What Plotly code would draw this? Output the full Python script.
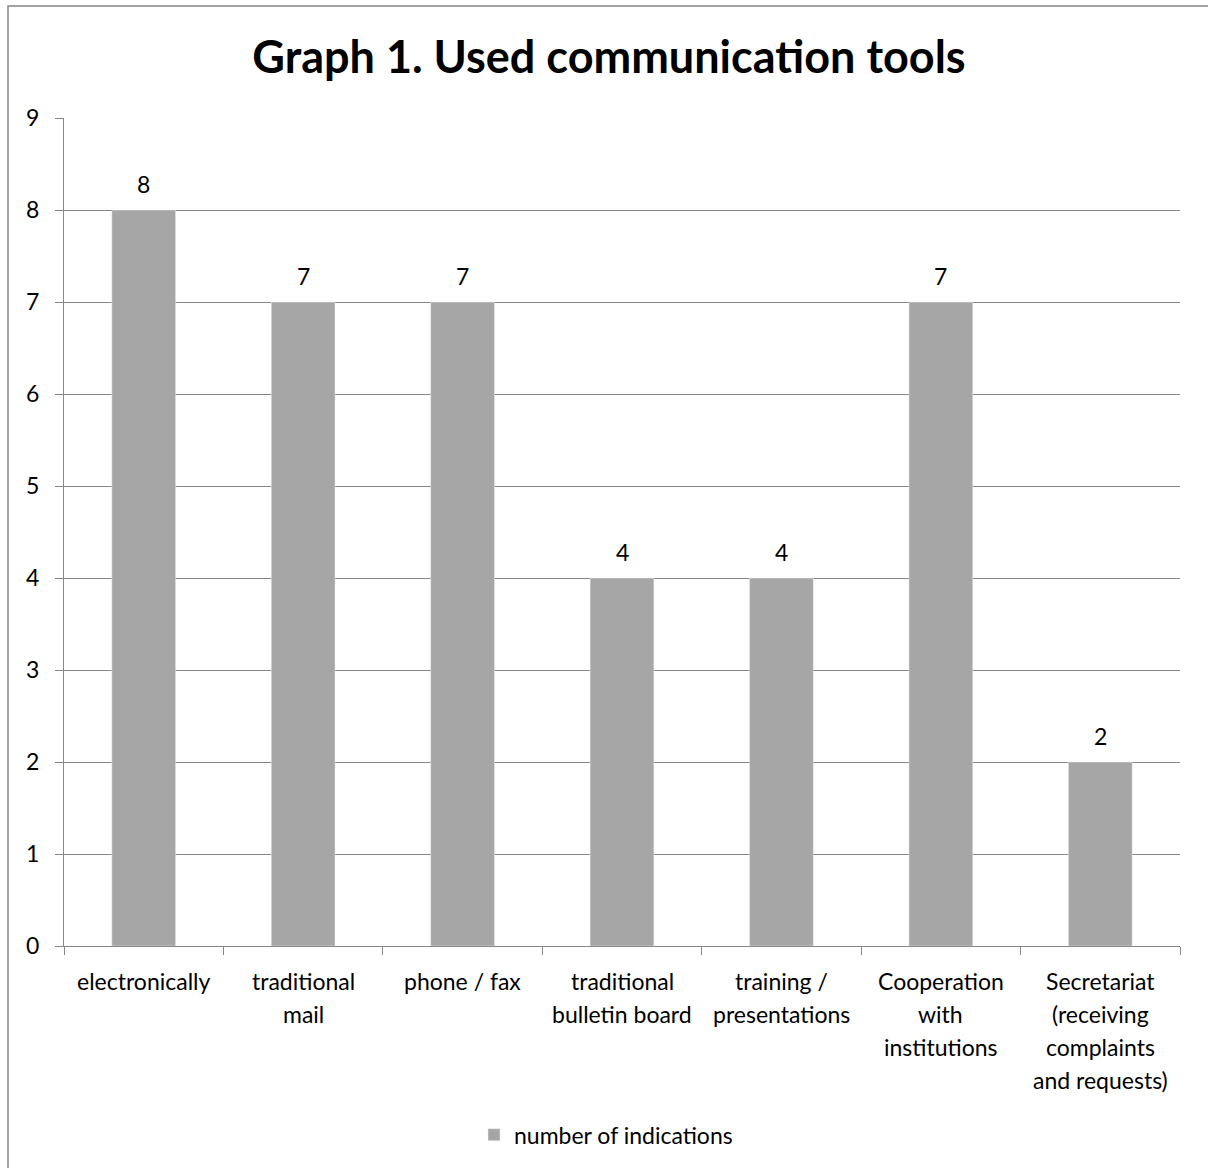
import plotly.graph_objects as go

categories = ["electronically", "traditional\nmail", "phone / fax",
              "traditional\nbulletin board", "training /\npresentations",
              "Cooperation\nwith\ninstitutions",
              "Secretariat\n(receiving\ncomplaints\nand requests)"]
values = [8, 7, 7, 4, 4, 7, 2]
series_name = "number of indications"
title_text = "Graph 1. Used communication tools"
y_ticks = list(range(0, 10))

FONT = "Lato"
FS = 23
BAR = "#a6a6a6"
GRID = "#878787"

cat_ids = [c.replace("\n", " ") for c in categories]

fig = go.Figure()
fig.add_trace(go.Bar(x=cat_ids, y=values, name=series_name, marker_color=BAR,
                     width=0.4, showlegend=True))

annotations = []
for cid, v in zip(cat_ids, values):
    annotations.append(dict(x=cid, y=v, xref="x", yref="y", text=str(v),
                            showarrow=False, yanchor="middle", yshift=26,
                            font=dict(family=FONT, size=FS, color="black")))
for cid, c in zip(cat_ids, categories):
    for i, line in enumerate(c.split("\n")):
        annotations.append(dict(x=cid, y=0, xref="x", yref="paper", text=line,
                                showarrow=False, yanchor="middle",
                                yshift=-35 - 33 * i,
                                font=dict(family=FONT, size=FS, color="black")))

fig.update_layout(
    width=1208, height=1168,
    margin=dict(l=64, r=28, t=118, b=222),
    paper_bgcolor="white", plot_bgcolor="white",
    font=dict(family=FONT, size=FS, color="black"),
    title=dict(text="<b>" + title_text + "</b>", x=609 / 1208, xanchor="center",
               y=1 - 57 / 1168, yanchor="middle",
               font=dict(family=FONT, size=45, color="black")),
    bargap=0.6,
    showlegend=True,
    legend=dict(orientation="h", x=(606 - 64) / 1116, xanchor="center",
                y=-0.228, yanchor="middle", itemwidth=30,
                font=dict(family=FONT, size=FS, color="black")),
    annotations=annotations,
    shapes=[dict(type="rect", xref="paper", yref="paper",
                 x0=(8 - 64) / 1116, x1=1.2, y0=-0.6, y1=(946 - 6) / 828,
                 line=dict(color=GRID, width=1.5), fillcolor="rgba(0,0,0,0)",
                 layer="below")],
)
fig.update_xaxes(type="category", showline=True, linecolor=GRID, linewidth=1,
                 ticks="outside", tickson="boundaries", ticklen=8, tickcolor=GRID,
                 showticklabels=False, showgrid=False)
fig.update_yaxes(range=[0, 9], tickvals=y_ticks, showline=True, linecolor=GRID,
                 linewidth=1, ticks="outside", ticklen=8, tickcolor=GRID,
                 showgrid=True, gridcolor=GRID, gridwidth=1, zeroline=False,
                 ticklabelstandoff=11, tickfont=dict(family=FONT, size=FS, color="black"))

fig.write_html("out.html")
